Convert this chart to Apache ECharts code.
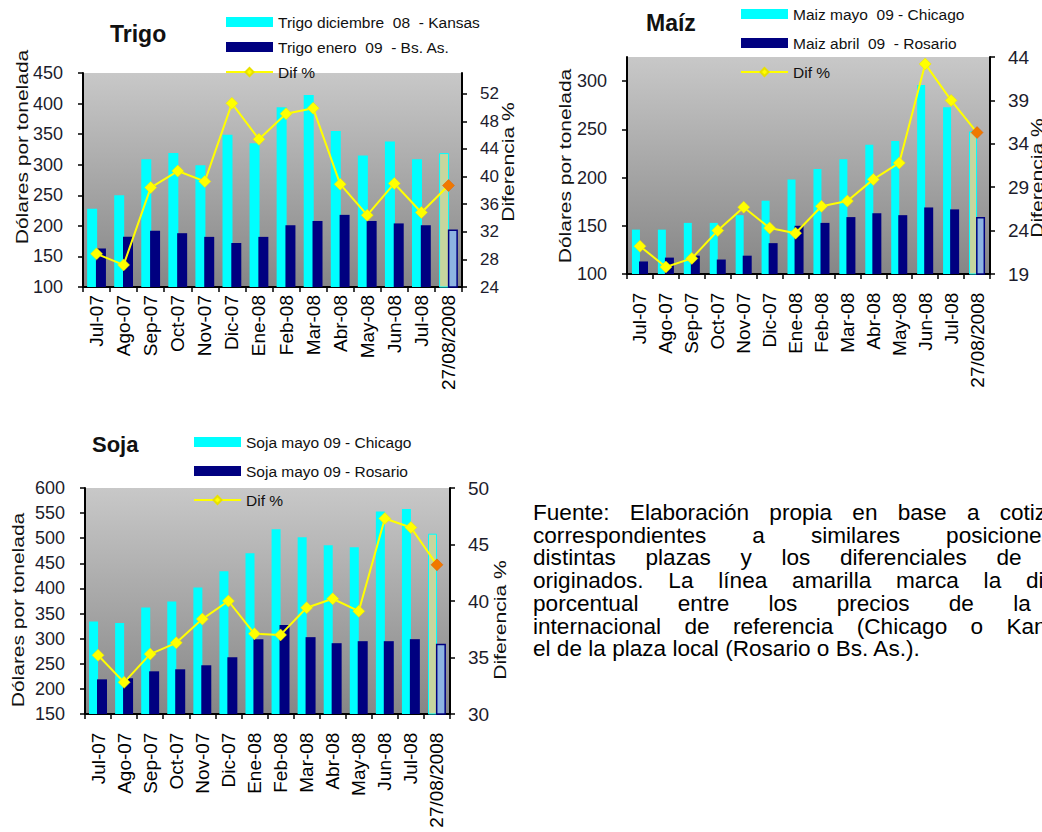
<!DOCTYPE html>
<html>
<head>
<meta charset="utf-8">
<script src="https://cdn.jsdelivr.net/npm/echarts@6/dist/echarts.min.js"></script>
<style>
  html, body { margin: 0; padding: 0; background: #fff; width: 1042px; height: 832px; overflow: hidden; }
  #chart { position: absolute; left: 0; top: 0; width: 1042px; height: 832px; }
  #note { position: absolute; left: 533px; top: 502px; width: 591px; font-family: "Liberation Sans", Arial, sans-serif; font-size: 22.6px; line-height: 22.7px; color: #000; }
  #note div { text-align: justify; text-align-last: justify; white-space: nowrap; }
  #note div.last { text-align: left; text-align-last: left; }
</style>
</head>
<body>
<div id="chart"></div>
<div id="note"></div>
<script>
// ---- data ----
const categories = ['Jul-07','Ago-07','Sep-07','Oct-07','Nov-07','Dic-07','Ene-08','Feb-08','Mar-08','Abr-08','May-08','Jun-08','Jul-08','27/08/2008'];

const trigoKansas = [228,250,309,319,299,349,335,394,414,355,315,338,309,319];
const trigoBsAs   = [163,182,192,188,182,172,182,201,208,218,208,204,201,194];
const trigoDif    = [28.8,27.2,38.4,40.8,39.3,50.6,45.4,49.1,49.9,38.9,34.4,39.0,34.8,38.7];

const maizChicago = [146,146,153,153,161,176,198,209,219,234,238,296,273,248];
const maizRosario = [113,117,119,115,119,132,150,153,159,163,161,169,167,159];
const maizDif     = [22.2,19.8,20.8,24.0,26.7,24.3,23.7,26.8,27.4,29.9,31.8,43.2,39.0,35.3];

const sojaChicago = [334,331,362,374,402,434,470,518,502,486,482,553,558,509];
const sojaRosario = [219,221,235,239,247,263,299,327,303,291,295,295,299,290];
const sojaDif     = [35.2,32.8,35.3,36.3,38.4,40.0,37.1,37.0,39.4,40.2,39.1,47.3,46.5,43.2];

const names = {
  trigo: ['Trigo diciembre  08  - Kansas', 'Trigo enero  09  - Bs. As.', 'Dif %'],
  maiz:  ['Maiz mayo  09 - Chicago', 'Maiz abril  09  - Rosario', 'Dif %'],
  soja:  ['Soja mayo 09 - Chicago', 'Soja mayo 09 - Rosario', 'Dif %']
};
const titles = ['Trigo', 'Maíz', 'Soja'];
const yNameLeft = 'Dólares por tonelada';
const yNameRight = 'Diferencia %';

const noteLines = [
  'Fuente: Elaboración propia en base a cotizaciones',
  'correspondientes a similares posiciones en',
  'distintas plazas y los diferenciales de precios',
  'originados. La línea amarilla marca la diferencia',
  'porcentual entre los precios de la plaza',
  'internacional de referencia (Chicago o Kansas) y',
  'el de la plaza local (Rosario o Bs. As.).'
];

// ---- note text ----
const note = document.getElementById('note');
noteLines.forEach((t, i) => {
  const d = document.createElement('div');
  d.textContent = t;
  if (i === noteLines.length - 1) d.className = 'last';
  note.appendChild(d);
});

// ---- chart ----
const FONT = '"Liberation Sans", Arial, sans-serif';
const CYAN = '#00ffff', NAVY = '#000080', YEL = '#ffff00';
const bg = { type: 'linear', x: 0, y: 0, x2: 0, y2: 1,
  colorStops: [{ offset: 0, color: '#c8c8c8' }, { offset: 1, color: '#868686' }] };

const grids = [
  { left: 83, top: 73, width: 379, height: 214 },
  { left: 627, top: 57, width: 363, height: 217 },
  { left: 85, top: 488, width: 365, height: 226 }
].map(g => Object.assign({ show: true, backgroundColor: bg, borderWidth: 0, containLabel: false, outerBoundsMode: 'none' }, g));

const axisLine = { show: true, lineStyle: { color: '#000', width: 2 } };
const axisTick = { show: true, length: 5, lineStyle: { color: '#000', width: 1.5 } };

const xPadChars = ['', '\u00a0\u00a0', '\u00a0\u00a0'];
const xAxes = [0, 1, 2].map(i => ({
  type: 'category', gridIndex: i, data: categories,
  axisLine: axisLine, axisTick: axisTick,
  axisLabel: { rotate: 90, interval: 0, margin: 8,
    formatter: v => v + xPadChars[i],
    fontSize: 19, fontFamily: FONT, color: '#000' },
  splitLine: { show: false }
}));

function leftAxis(grid, min, max, interval) {
  return { type: 'value', gridIndex: grid, min, max, interval, position: 'left',
    axisLine: axisLine, axisTick: axisTick, splitLine: { show: false },
    axisLabel: { margin: 20, fontSize: 18, fontFamily: FONT, color: '#1c1c2c', showMaxLabel: max % interval === 0 } };
}
function rightAxis(grid, min, max, interval, font, size) {
  return { type: 'value', gridIndex: grid, min, max, interval, position: 'right',
    axisLine: axisLine, axisTick: axisTick, splitLine: { show: false },
    axisLabel: { margin: 18, fontSize: size, fontFamily: font, color: '#1c1c2c',
      showMaxLabel: (max - min) % interval === 0 } };
}
const yAxes = [
  leftAxis(0, 100, 450, 50), rightAxis(0, 24, 55, 4, '"Liberation Sans Narrow", ' + FONT, 17),
  leftAxis(1, 100, 325, 50), rightAxis(1, 19, 44, 5, FONT, 19),
  leftAxis(2, 150, 600, 50), rightAxis(2, 30, 50, 5, FONT, 19)
];

const LAST = categories.length - 1;
function intlData(arr) {
  return arr.map((v, i) => i === LAST
    ? { value: v, itemStyle: { color: '#c6d69e', borderColor: CYAN, borderWidth: 1 } } : v);
}
function localData(arr) {
  return arr.map((v, i) => i === LAST
    ? { value: v, itemStyle: { color: '#8db4e2', borderColor: NAVY, borderWidth: 1.5 } } : v);
}
function difData(arr) {
  return arr.map((v, i) => i === LAST
    ? { value: v, itemStyle: { color: '#f07800', borderColor: '#e06000' } } : v);
}

function chartSeries(idx, nm, intl, local, dif, w1, w2) {
  return [
    { name: nm[0], type: 'bar', xAxisIndex: idx, yAxisIndex: idx * 2, data: intlData(intl),
      barWidth: w1, barGap: '-12%', itemStyle: { color: CYAN }, silent: true },
    { name: nm[1], type: 'bar', xAxisIndex: idx, yAxisIndex: idx * 2, data: localData(local),
      barWidth: w2, barGap: '-12%', itemStyle: { color: NAVY }, silent: true },
    { name: nm[2], type: 'line', xAxisIndex: idx, yAxisIndex: idx * 2 + 1, data: difData(dif),
      symbol: 'diamond', symbolSize: 12, lineStyle: { color: YEL, width: 2 },
      itemStyle: { color: YEL, borderColor: '#e8e000', borderWidth: 0.5 }, z: 5, silent: true }
  ];
}

const series = [].concat(
  chartSeries(0, names.trigo, trigoKansas, trigoBsAs, trigoDif, 10, 10),
  chartSeries(1, names.maiz, maizChicago, maizRosario, maizDif, 8, 9),
  chartSeries(2, names.soja, sojaChicago, sojaRosario, sojaDif, 9, 10)
);

function legend(nm, left, top, gap) {
  return { orient: 'vertical', left, top, itemWidth: 47, itemHeight: 10, itemGap: gap,
    padding: 0, selectedMode: false,
    textStyle: { fontSize: 15.5, fontFamily: FONT, color: '#111', lineHeight: 16 },
    data: [{ name: nm[0], icon: 'rect' }, { name: nm[1], icon: 'rect' }, { name: nm[2] }] };
}

const titleStyle = { fontSize: 23, fontWeight: 'bold', fontFamily: FONT, color: '#111' };

function vtext(txt, x, y, sx) {
  return { type: 'text', x, y, rotation: Math.PI / 2, scaleX: sx, scaleY: 1, z: 10,
    style: { text: txt, fill: '#111', font: '16px ' + FONT,
      align: 'center', verticalAlign: 'middle', textAlign: 'center', textVerticalAlign: 'middle' } };
}

const option = {
  animation: false,
  textStyle: { fontFamily: FONT },
  title: [
    { text: titles[0], left: 110, top: 22, padding: 0, textStyle: titleStyle },
    { text: titles[1], left: 646, top: 11, padding: 0, textStyle: titleStyle },
    { text: titles[2], left: 92, top: 433, padding: 0, textStyle: Object.assign({}, titleStyle, { fontSize: 22 }) }
  ],
  legend: [
    legend(names.trigo, 225, 14, 9),
    legend(names.maiz, 740, 6, 13),
    legend(names.soja, 193, 434, 13)
  ],
  grid: grids,
  xAxis: xAxes,
  yAxis: yAxes,
  series: series,
  graphic: [
    vtext(yNameLeft, 22, 147, 1.31),
    vtext(yNameLeft, 565, 166, 1.31),
    vtext(yNameLeft, 18, 610, 1.31),
    vtext(yNameRight, 508, 162, 1.32),
    vtext(yNameRight, 1037, 178, 1.32),
    vtext(yNameRight, 500, 620, 1.32)
  ]
};

const chart = echarts.init(document.getElementById('chart'), null, { renderer: 'svg' });
chart.setOption(option);
</script>
</body>
</html>
